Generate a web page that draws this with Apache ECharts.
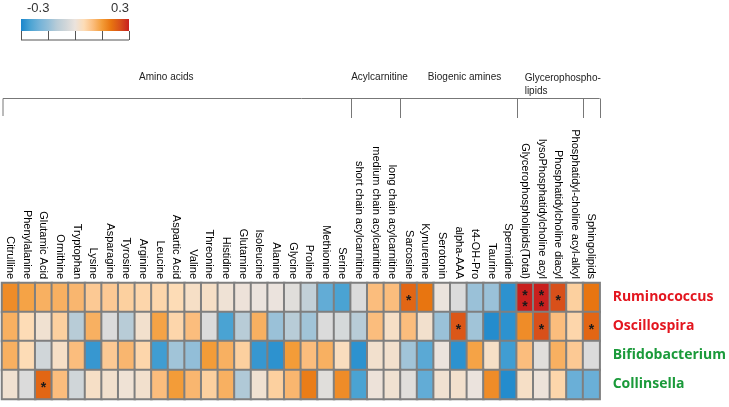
<!DOCTYPE html>
<html><head><meta charset="utf-8">
<script src="https://cdn.jsdelivr.net/npm/echarts@6/dist/echarts.min.js"></script>
<style>html,body{margin:0;padding:0;background:#fff}#c{width:729px;height:407px}</style>
</head><body><div id="c"></div>
<script>
var metabolites = ['Citrulline','Phenylalanine','Glutamic Acid','Ornithine','Tryptophan','Lysine','Asparagine','Tyrosine','Arginine','Leucine','Aspartic Acid','Valine','Threonine','Histidine','Glutamine','Isoleucine','Alanine','Glycine','Proline','Methionine','Serine','short chain acylcarnitine','medium chain acylcarnitine','long chain acylcarnitine','Sarcosine','Kynurenine','Serotonin','alpha-AAA','t4-OH-Pro','Taurine','Spermidine','Glycerophospholipids(Total)','lysoPhosphatidylcholine acyl','Phosphatidylcholine diacyl','Phosphatidyl-choline acyl-alkyl','Sphingolipids'];
var bacteria = ['Ruminococcus','Oscillospira','Bifidobacterium','Collinsella'];
var bacteriaColors = ['#e3161f','#e3161f','#1a9a3a','#1a9a3a'];
var ruminococcus   = [0.17,0.14,0.12,0.12,0.11,0.08,0.08,0.07,0.06,0.06,0.05,0.03,0.03,0.01,0.005,0.0,0.0,-0.02,-0.08,-0.22,-0.25,-0.03,0.10,0.10,0.22,0.20,0.0,-0.03,-0.14,-0.14,-0.28,0.30,0.30,0.25,0.07,0.20];
var oscillospira   = [0.12,0.05,0.015,0.07,-0.10,0.12,-0.03,-0.10,0.02,0.14,0.06,0.10,-0.03,-0.25,-0.10,0.12,-0.14,-0.10,-0.13,-0.03,-0.04,-0.10,0.10,0.03,0.10,0.02,-0.14,0.24,-0.13,-0.29,-0.28,0.17,0.25,0.10,0.06,0.22];
var bifidobacterium= [0.12,0.05,-0.05,0.03,0.10,-0.27,0.08,0.11,0.06,-0.26,-0.13,-0.15,0.15,0.12,0.07,-0.27,-0.28,0.15,0.10,0.12,0.04,-0.28,0.02,0.02,-0.13,-0.23,0.0,-0.28,0.14,0.03,-0.26,0.10,-0.02,0.12,0.08,-0.03];
var collinsella    = [0.015,-0.03,0.22,0.10,-0.05,0.03,0.02,0.01,0.02,0.10,0.15,0.11,0.07,0.12,-0.11,0.015,0.07,0.11,0.19,-0.02,0.17,-0.25,0.005,0.015,-0.02,-0.22,0.015,0.02,0.0,0.17,-0.29,0.03,0.005,0.06,-0.21,-0.21];
// significance marks: [row, column, number of asterisks]
var significance = [[0,24,1],[0,31,2],[0,32,2],[0,33,1],[1,27,1],[1,32,1],[1,35,1],[3,2,1]];
var groupNames = ['Amino acids','Acylcarnitine','Biogenic amines','Glycerophospho-\nlipids',''];
var groupStart = [0,21,24,31,35];
var groupEnd   = [20,23,30,34,35];
var colorbarTicks = ['-0.3','0.3'];

var rows = [ruminococcus, oscillospira, bifidobacterium, collinsella];
var stars = {};
significance.forEach(function(s){ stars[s[0]+'_'+s[1]] = s[2]===2 ? '*\n*' : '*'; });
var data = [];
rows.forEach(function(r, ri){ r.forEach(function(v, ci){ data.push([ci, ri, v, stars[ri+'_'+ci] || '']); }); });

var scaleColors = ['#1a86cc','#4aa3d3','#72b2d8','#92bed8','#b8ccd7','#d0d6d9','#ebe3dd','#fddcb6','#fbbd7d','#f39c38','#e87510','#d8501a','#c8201e'];

var chart = echarts.init(document.getElementById('c'), null, {renderer:'canvas'});
chart.setOption({
  animation:false,
  backgroundColor:'#fff',
  grid:{left:2, right:124, top:283, bottom:8},
  xAxis:{type:'category', position:'top', data:metabolites,
    axisLine:{show:false}, axisTick:{show:false}, splitLine:{show:false},
    axisLabel:{interval:0, rotate:90, margin:4, fontSize:11, color:'#000', fontFamily:'Liberation Sans, Arial'}},
  yAxis:{type:'category', position:'right', inverse:true, data:bacteria,
    axisLine:{show:false}, axisTick:{show:false}, splitLine:{show:false},
    axisLabel:{margin:13, fontSize:14, fontWeight:'bold', fontFamily:'Open Sans', color:function(v,i){return bacteriaColors[bacteria.indexOf(v)];}}},
  visualMap:{show:false, type:'continuous', min:-0.3, max:0.3, dimension:2, inRange:{color:scaleColors}},
  series:[{type:'heatmap', data:data,
    itemStyle:{borderColor:'#7f7f7f', borderWidth:2},
    label:{show:true, formatter:function(p){return p.data[3];}, color:'#1a1a1a', fontSize:14, fontWeight:'bold', lineHeight:11, offset:[0,4], fontFamily:'Liberation Sans, Arial'}
  }]
});

// colorbar + group brackets
var g = [];
var cbL = 21, cbR = 129;
var stops = scaleColors.map(function(c,i){return {offset:i/(scaleColors.length-1), color:c};});
g.push({type:'rect', shape:{x:cbL, y:19, width:cbR-cbL, height:12}, style:{fill:new echarts.graphic.LinearGradient(0,0,1,0,stops)}});
g.push({type:'line', shape:{x1:cbL, y1:40, x2:cbR, y2:40}, style:{stroke:'#555', lineWidth:1}});
for (var t=0;t<5;t++){ var xx = Math.round(cbL + t*(cbR-cbL)/4)+0.5; g.push({type:'line', shape:{x1:xx,y1:31,x2:xx,y2:40}, style:{stroke:'#555', lineWidth:1}}); }
g.push({type:'text', x:27, y:2, style:{text:colorbarTicks[0], fontSize:13, fill:'#333', fontFamily:'Liberation Sans, Arial'}});
g.push({type:'text', x:111, y:2, style:{text:colorbarTicks[1], fontSize:13, fill:'#333', fontFamily:'Liberation Sans, Arial'}});

function edgeX(ci, side){ var c = chart.convertToPixel({gridIndex:0}, [ci, 0])[0]; var w = chart.convertToPixel({gridIndex:0}, [1,0])[0] - chart.convertToPixel({gridIndex:0}, [0,0])[0]; return side<0 ? c - w/2 : c + w/2; }
var lineY = 98.5;
var leftX = edgeX(0,-1)+1, rightX = edgeX(35,1);
g.push({type:'line', shape:{x1:leftX, y1:lineY, x2:rightX, y2:lineY}, style:{stroke:'#777', lineWidth:1}});
g.push({type:'line', shape:{x1:leftX, y1:lineY, x2:leftX, y2:116}, style:{stroke:'#777', lineWidth:1}});
for (var k=1;k<groupStart.length;k++){ var vx = Math.round(edgeX(groupStart[k],-1))+0.5; g.push({type:'line', shape:{x1:vx,y1:lineY,x2:vx,y2:118}, style:{stroke:'#777', lineWidth:1}}); }
var rx = Math.round(rightX)+0.5;
g.push({type:'line', shape:{x1:rx,y1:lineY,x2:rx,y2:118}, style:{stroke:'#777', lineWidth:1}});
var labelShift = [-10, 4, 6, 0];
for (var k=0;k<4;k++){
  var a = edgeX(groupStart[k],-1), b = edgeX(groupEnd[k],1);
  if (k===3) {
    g.push({type:'text', x:a+8, y:72, style:{text:groupNames[k], fontSize:10, lineHeight:13, fill:'#222', fontFamily:'Liberation Sans, Arial', align:'left', verticalAlign:'top'}});
  } else {
    g.push({type:'text', x:(a+b)/2+labelShift[k], y:72, style:{text:groupNames[k], fontSize:10, fill:'#222', fontFamily:'Liberation Sans, Arial', align:'center', verticalAlign:'top'}});
  }
}
chart.setOption({graphic:g});
</script></body></html>
